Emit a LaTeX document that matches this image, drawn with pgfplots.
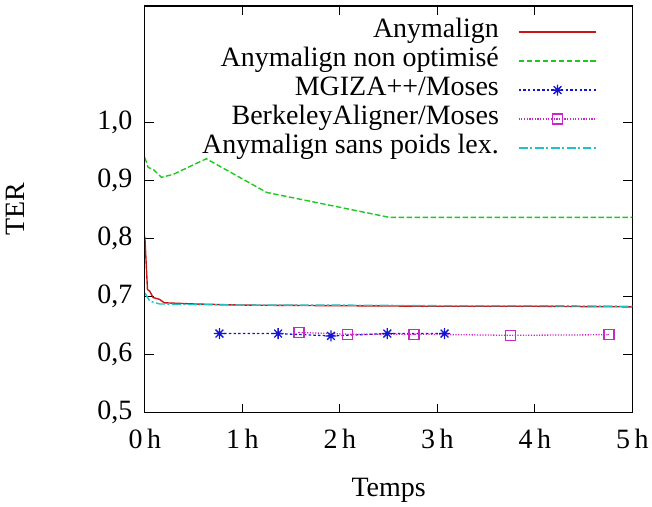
\documentclass[border=0pt]{standalone}
\usepackage{pgfplots}
\pgfplotsset{compat=1.18}
\usepackage{fontspec}
\setmainfont{Liberation Serif}
\definecolor{gpred}{RGB}{204,20,20}
\definecolor{gpgreen}{RGB}{30,200,30}
\definecolor{gpblue}{RGB}{20,20,210}
\definecolor{gpmag}{RGB}{200,40,200}
\definecolor{gpcyan}{RGB}{30,195,200}
\pgfdeclareplotmark{gpstar}{%
  \pgfpathmoveto{\pgfqpoint{-\pgfplotmarksize}{0pt}}\pgfpathlineto{\pgfqpoint{\pgfplotmarksize}{0pt}}%
  \pgfpathmoveto{\pgfqpoint{0pt}{-\pgfplotmarksize}}\pgfpathlineto{\pgfqpoint{0pt}{\pgfplotmarksize}}%
  \pgfpathmoveto{\pgfqpoint{-.707\pgfplotmarksize}{-.707\pgfplotmarksize}}\pgfpathlineto{\pgfqpoint{.707\pgfplotmarksize}{.707\pgfplotmarksize}}%
  \pgfpathmoveto{\pgfqpoint{-.707\pgfplotmarksize}{.707\pgfplotmarksize}}\pgfpathlineto{\pgfqpoint{.707\pgfplotmarksize}{-.707\pgfplotmarksize}}%
  \pgfusepathqstroke}
\pgfdeclareplotmark{gpsq}{%
  \pgfpathrectangle{\pgfqpoint{-\pgfplotmarksize}{-\pgfplotmarksize}}{\pgfqpoint{2\pgfplotmarksize}{2\pgfplotmarksize}}%
  \pgfpathmoveto{\pgfqpoint{-0.6pt}{0pt}}\pgfpathlineto{\pgfqpoint{0.6pt}{0pt}}%
  \pgfusepathqstroke}
\begin{document}
\begin{tikzpicture}
\begin{axis}[
  scale only axis, width=488pt, height=407pt,
  xmin=0, xmax=5, ymin=0.5, ymax=1.2,
  axis line style={line width=1.3pt},
  every tick/.style={line width=1pt, black},
  major tick length=9pt,
  tick align=inside,
  xtick={0,1,2,3,4,5},
  xticklabels={0\,h,1\,h,2\,h,3\,h,4\,h,5\,h},
  ytick={0.5,0.6,0.7,0.8,0.9,1.0},
  /pgf/number format/use comma,
  /pgf/number format/fixed,
  /pgf/number format/fixed zerofill,
  /pgf/number format/precision=1,
  /pgf/number format/assume math mode=true,
  tick label style={font=\fontsize{28}{30}\selectfont},
  label style={font=\fontsize{28}{30}\selectfont},
  xticklabel style={yshift=-13pt},
  yticklabel style={xshift=-9pt},
  xlabel={Temps}, ylabel={TER},
  xlabel style={yshift=-23pt},
  ylabel style={yshift=66pt},
  legend cell align=right,
  legend plot pos=right,
  legend style={draw=none, fill=none, font=\fontsize{28}{30}\selectfont,
    at={(1,1)}, anchor=north east, xshift=-35pt, yshift=-11.5pt,
    inner sep=0pt, row sep=0pt, column sep=19pt,
    nodes={inner sep=0pt, text height=20pt, text depth=9pt}},
  legend image code/.code={\draw[mark repeat=2,mark phase=2,#1] plot coordinates {(0pt,0pt)(39pt,0pt)(78pt,0pt)};},
]
\addplot[gpred, line width=1.4pt] coordinates {
(0,0.803)(0.027,0.712)(0.05,0.709)(0.085,0.698)(0.15,0.695)(0.2,0.689)(0.5,0.687)(1,0.685)(2,0.684)(3,0.683)(4,0.683)(5,0.682)};
\addlegendentry{Anymalign}
\addplot[gpgreen, line width=1.4pt, dash pattern=on 5.5pt off 2.5pt] coordinates {
(0,0.939)(0.034,0.922)(0.085,0.919)(0.17,0.905)(0.29,0.910)(0.63,0.937)(1.25,0.879)(2.51,0.836)(5,0.836)};
\addlegendentry{Anymalign non optimisé}
\addplot[gpblue, line width=1.3pt, dash pattern=on 2.5pt off 2.2pt, mark=gpstar, mark size=5.5pt, mark options={solid, line width=1.3pt}] coordinates {
(0.765,0.636)(1.367,0.636)(1.909,0.632)(2.487,0.636)(3.074,0.636)};
\addlegendentry{MGIZA++/Moses}
\addplot[gpmag, line width=1.3pt, dash pattern=on 1.2pt off 1.5pt, mark=gpsq, mark size=5pt, mark options={solid, line width=1.3pt}] coordinates {
(1.581,0.638)(2.075,0.635)(2.760,0.635)(3.749,0.633)(4.759,0.634)};
\addlegendentry{BerkeleyAligner/Moses}
\addplot[gpcyan, line width=1.4pt, dash pattern=on 9pt off 2.5pt on 2pt off 2.5pt] coordinates {
(0,0.706)(0.05,0.692)(0.15,0.687)(0.5,0.686)(1,0.685)(2,0.685)(3,0.684)(4,0.684)(5,0.683)};
\addlegendentry{Anymalign sans poids lex.}
\end{axis}
\useasboundingbox (-145pt,-91pt) rectangle (507pt,413pt);
\end{tikzpicture}
\end{document}
